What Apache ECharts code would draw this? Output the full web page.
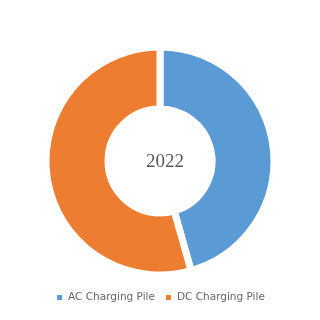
<!DOCTYPE html>
<html><head><meta charset="utf-8">
<script src="https://cdn.jsdelivr.net/npm/echarts@6/dist/echarts.min.js"></script>
<style>html,body{margin:0;padding:0;background:#fff}#c{width:320px;height:320px}</style>
</head><body><div id="c"></div>
<script>
const categories = ["AC Charging Pile", "DC Charging Pile"];
const values = [45.6, 54.4];
const colors = ["#5B9BD5", "#ED7D31"];
const centerLabel = "2022";

const chart = echarts.init(document.getElementById('c'), null, {renderer: 'canvas'});
chart.setOption({
  animation: false,
  color: colors,
  title: {
    text: centerLabel,
    left: 160, top: 148, textAlign: 'center',
    textStyle: {fontFamily: 'Liberation Serif', fontWeight: 'normal', fontSize: 19, color: '#595959'}
  },
  legend: {
    data: categories,
    bottom: 12, left: 'center',
    itemWidth: 7, itemHeight: 7, itemGap: 9,
    icon: 'rect',
    textStyle: {fontFamily: 'DejaVu Sans', fontSize: 10.5, color: '#666666'}
  },
  series: [{
    type: 'pie',
    center: [160, 161],
    radius: [52, 114],
    startAngle: 90,
    clockwise: true,
    label: {show: false},
    labelLine: {show: false},
    itemStyle: {borderColor: '#fff', borderWidth: 7},
    data: categories.map((n, i) => ({name: n, value: values[i]}))
  }]
});
</script></body></html>
